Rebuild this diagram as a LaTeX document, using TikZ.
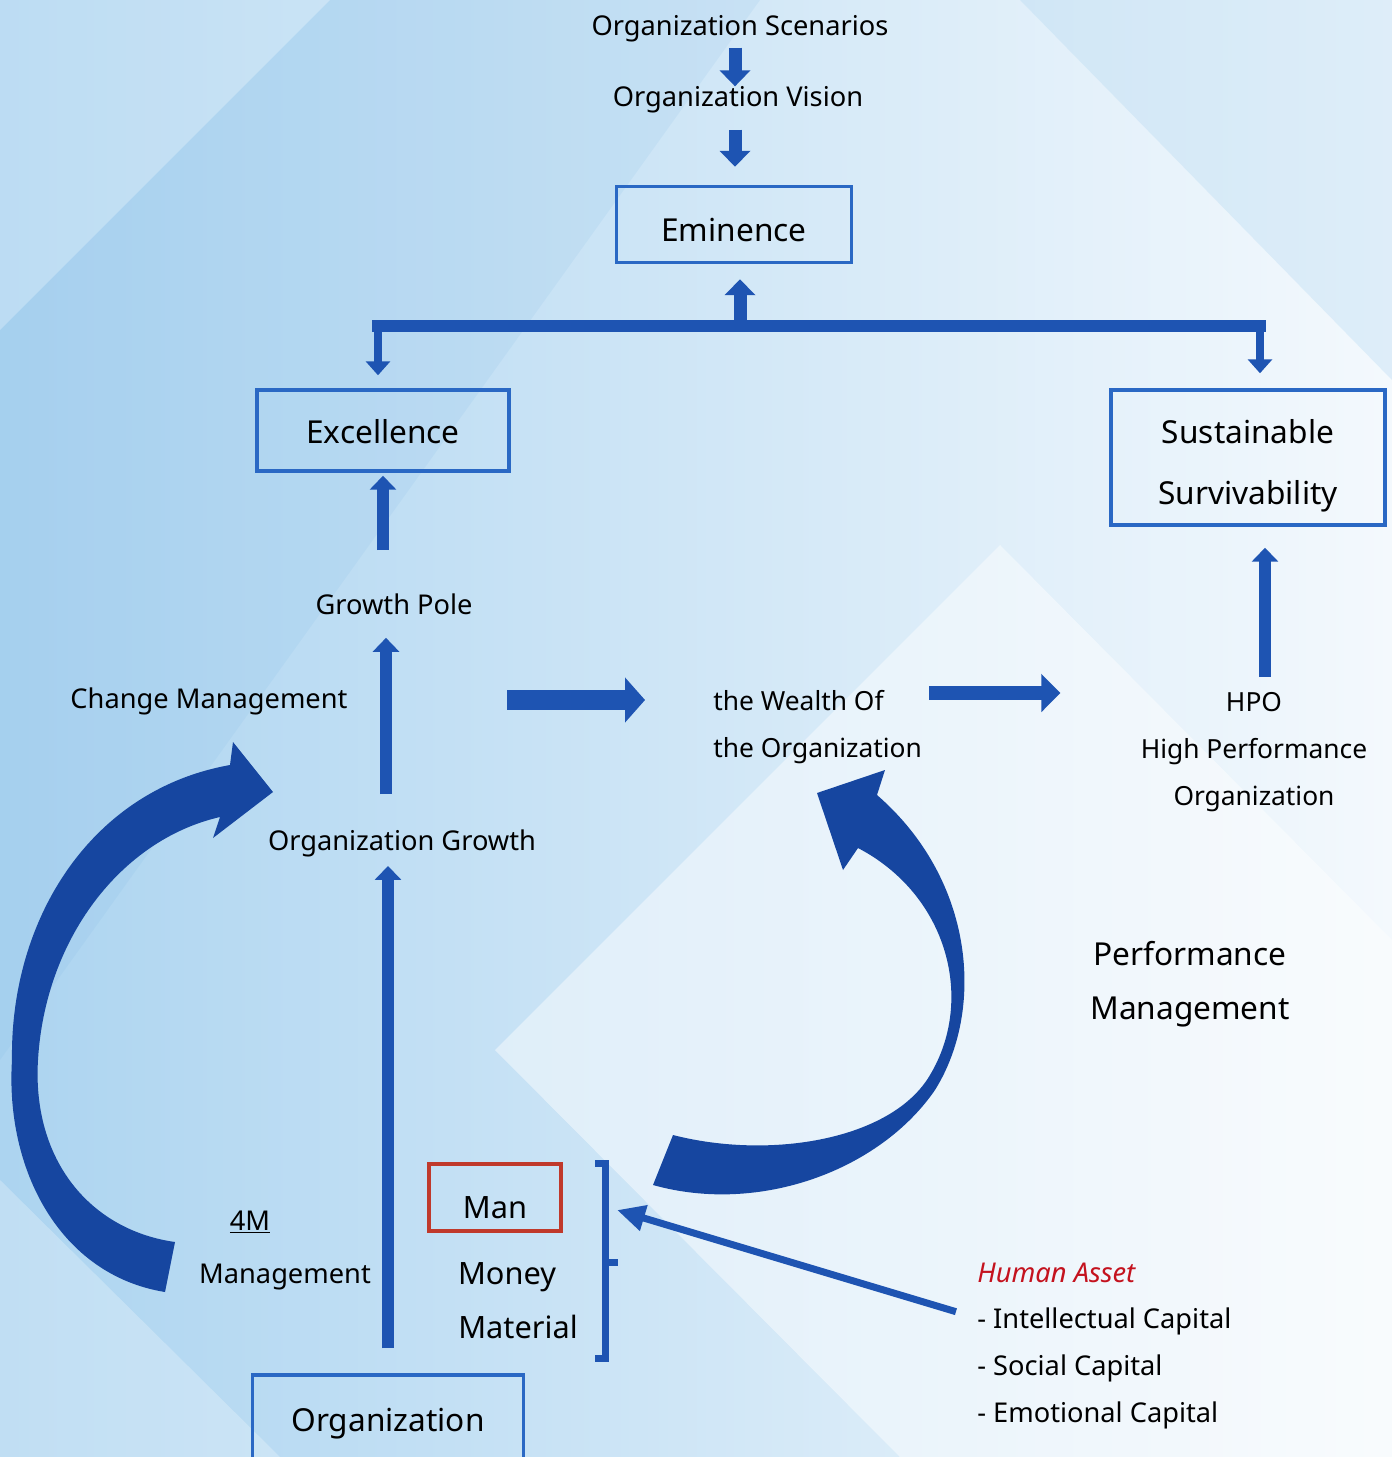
\documentclass[tikz,border=0pt]{standalone}
\usepackage{fontspec}
\setmainfont{Noto Sans}
\usetikzlibrary{arrows.meta}
\definecolor{boxblue}{RGB}{42,104,196}
\definecolor{arrowblue}{RGB}{30,84,178}
\definecolor{arcblue}{RGB}{22,70,160}
\definecolor{manred}{RGB}{192,57,43}
\definecolor{assetred}{RGB}{196,18,30}
\definecolor{bgmid}{RGB}{172,212,240}
\definecolor{bgdeep}{RGB}{120,180,228}
\definecolor{bglight}{RGB}{244,249,253}

\begin{document}
\begin{tikzpicture}[x=0.02cm, y=-0.02cm,
  labeltext/.style={inner sep=0pt, font=\fontsize{15.5}{19}\selectfont},
  bigtext/.style={inner sep=0pt, font=\fontsize{17.5}{21}\selectfont},
  framebox/.style={draw=boxblue, line width=0.07cm, inner sep=0pt, align=center, text depth=0pt, font=\fontsize{18}{22}\selectfont},
  stubarrow/.style={draw=arrowblue, line width=0.26cm, -{Triangle[width=0.6cm,length=0.32cm]}},
  axisarrow/.style={draw=arrowblue, line width=0.23cm, -{Triangle[width=0.52cm,length=0.28cm]}},
  bararrow/.style={draw=arrowblue, line width=0.16cm, -{Triangle[width=0.48cm,length=0.28cm]}},
  blockarrow/.style={draw=arrowblue, line width=0.4cm, -{Triangle[width=0.88cm,length=0.4cm]}},
  thinarrow/.style={draw=arrowblue, line width=0.14cm, -{Triangle[width=0.5cm,length=0.56cm]}}]
\useasboundingbox (0,0) rectangle (1392,1457);
\clip (0,0) rectangle (1392,1457);

% background
\shade[left color=bgmid, right color=bglight] (0,0) rectangle (1392,1457);
\fill[white, opacity=0.2] (0,0) -- (330,0) -- (0,330) -- cycle;
\fill[bgdeep, opacity=0.12] (330,0) -- (760,0) -- (0,1060) -- (0,330) -- cycle;
\fill[white, opacity=0.45] (495,1050) -- (1000,545) -- (1392,940) -- (1392,1457) -- (900,1457) -- cycle;
\fill[white, opacity=0.25] (0,1180) -- (280,1457) -- (0,1457) -- cycle;
\fill[bgmid, opacity=0.3] (1020,0) -- (1392,0) -- (1392,380) -- cycle;

% top chain
\node[labeltext] (scen) at (740,29) {Organization Scenarios};
\node[labeltext] (vision) at (738,100) {Organization Vision};
\node[framebox, text height=0.67cm, minimum width=4.7cm, minimum height=1.52cm] (emin) at (734,224.5) {Eminence};
\draw[stubarrow, shorten <=0.1cm] (scen.south -| 735,0) -- (vision.north -| 735,0);
\draw[stubarrow, shorten <=0.32cm, shorten >=0.36cm] (vision.south -| 735,0) -- (emin.north -| 735,0);

% branches
\node[framebox, text height=0.51cm, minimum width=5.04cm, minimum height=1.62cm] (excel) at (383,430.5) {Excellence};
\node[framebox, text height=1.9cm, minimum width=5.48cm, minimum height=2.7cm] (sust) at (1248,457.5) {Sustainable\\[13pt]Survivability};
\coordinate (barL) at (378,326);
\coordinate (barM) at (740,326);
\coordinate (barR) at (1260,326);
\draw[arrowblue, line width=0.24cm, line cap=rect] (barL) -- (barR);
\draw[stubarrow, shorten >=0.3cm] (barM) -- (barM |- emin.south);
\draw[bararrow, shorten >=0.26cm] (barL) -- (barL |- excel.north);
\draw[bararrow, shorten >=0.3cm] (barR) -- (barR |- sust.north);

% growth axis
\node[labeltext] (gpole) at (394,604) {Growth Pole};
\node[labeltext] (change) at (209,701) {Change Management};
\node[labeltext] (orggrowth) at (402,843) {Organization Growth};
\node[framebox, text height=0.45cm, minimum width=5.42cm, minimum height=1.8cm] (org) at (388,1420) {Organization};
\draw[axisarrow, shorten <=0.5cm, shorten >=0.18cm] (org.north) -- (org.north |- orggrowth.south);
\draw[axisarrow, shorten <=0.7cm, shorten >=0.46cm] (386,0 |- orggrowth.north) -- (386,0 |- gpole.south);
\draw[axisarrow, shorten <=0.86cm, shorten >=0.06cm] (383,0 |- gpole.north) -- (383,0 |- excel.south);

% wealth and HPO
\node[inner sep=0pt, anchor=west, align=left, font=\fontsize{15}{26.8}\selectfont] (wealth) at (713,727) {the Wealth Of\\the Organization};
\node[inner sep=0pt, align=center, font=\fontsize{15}{26.8}\selectfont] (hpo) at (1254,752) {HPO\\High Performance\\Organization};
\coordinate (wealthin) at (507,700);
\draw[blockarrow, shorten >=1.36cm] (wealthin) -- (wealthin -| wealth.west);
\draw[blockarrow, line width=0.28cm, -{Triangle[width=0.74cm,length=0.38cm]}, shorten <=0.14cm, shorten >=1.6cm] (wealth.east |- 0,693) -- (hpo.west |- 0,693);
\draw[axisarrow, shorten <=0.3cm, shorten >=0.42cm] ([xshift=0.22cm]hpo.north) -- ([xshift=0.22cm]hpo.north |- sust.south);

\node[align=center, inner sep=0pt, font=\fontsize{18}{30.6}\selectfont] (perf) at (1190,984) {Performance\\Management};

% 4M
\node[labeltext] (fourm) at (250,1222) {\underline{4M}};
\node[labeltext] (mgmt) at (285,1277) {Management};
\node[draw=manred, line width=0.08cm, inner sep=0pt, text height=0.82cm, text depth=0pt, minimum width=2.64cm, minimum height=1.34cm, font=\fontsize{17.5}{21}\selectfont] (man) at (495,1197.5) {Man};
\node[bigtext] (money) at (507,1277) {Money};
\node[bigtext] (material) at (518,1327) {Material};
\coordinate (brk) at (617,1210);
\draw[arrowblue, line width=0.14cm] (595,1163) -- (605,1163) -- (605,1358) -- (595,1358) (605,1262) -- (618,1262);

% human asset
\node[labeltext, anchor=west, text=assetred, font=\fontsize{15.5}{19}\itshape] (asset) at (977,1273) {Human Asset};
\node[labeltext, anchor=west] (intel) at (977,1321) {- Intellectual Capital};
\node[labeltext, anchor=west] (social) at (977,1368) {- Social Capital};
\node[labeltext, anchor=west] (emot) at (977,1415) {- Emotional Capital};
\draw[thinarrow, shorten <=0.44cm] ([yshift=0.06cm]intel.west) -- (brk);

% curved arrows
\fill[arcblue] (165,1292) .. controls (60,1275) and (5,1170) .. (12,1060)
  .. controls (10,920) and (90,790) .. (230,765) -- (233,742) -- (273,792) -- (213,838) -- (220,817)
  .. controls (120,840) and (45,940) .. (38,1060) .. controls (32,1160) and (90,1230) .. (175,1242) -- cycle;
\fill[arcblue] (653,1185) .. controls (760,1215) and (880,1170) .. (935,1090)
  .. controls (985,1010) and (975,880) .. (877,795) -- (885,770) -- (817,793) -- (843,870) -- (858,848)
  .. controls (948,895) and (975,1000) .. (930,1075) .. controls (892,1140) and (770,1160) .. (673,1135) -- cycle;
\end{tikzpicture}
\end{document}
